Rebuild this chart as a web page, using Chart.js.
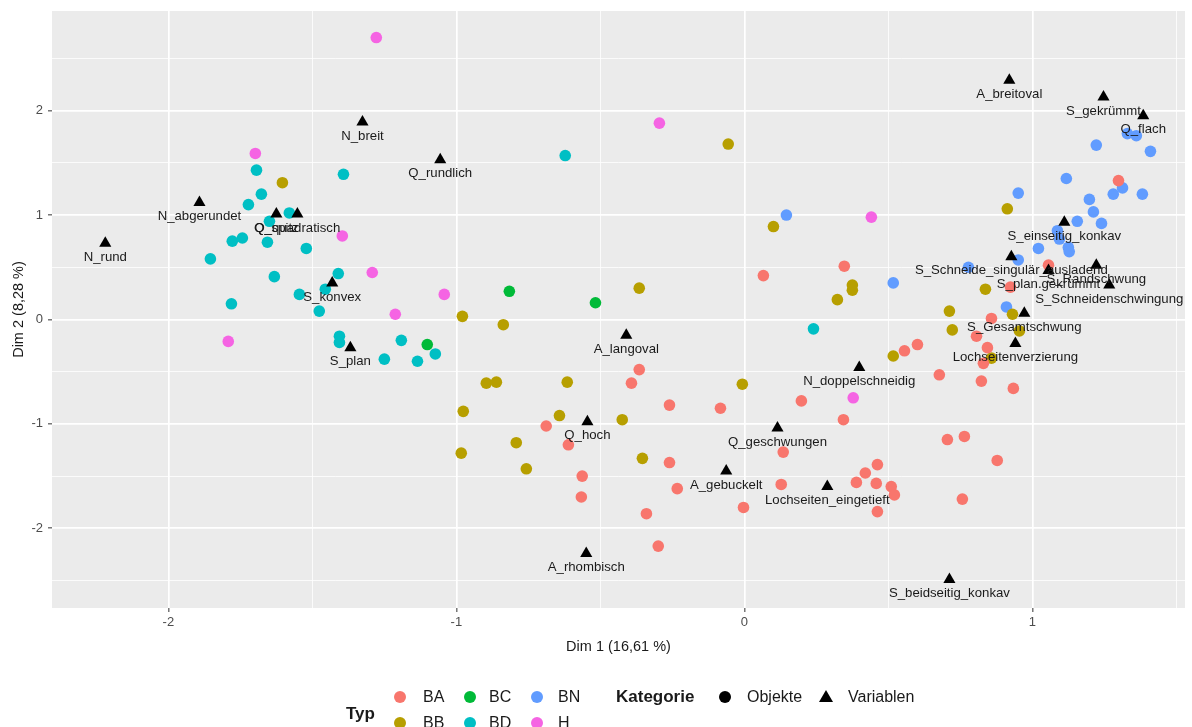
<!DOCTYPE html>
<html><head><meta charset="utf-8">
<script src="https://cdn.jsdelivr.net/npm/chart.js@4.4.1/dist/chart.umd.min.js"></script>
<style>
html,body{margin:0;padding:0;background:#fff;}
#wrap{position:relative;width:1192px;height:727px;overflow:hidden;}
#c{position:absolute;left:0;top:0;}
.lg{position:absolute;font-family:"Liberation Sans",Arial,sans-serif;color:#1a1a1a;white-space:nowrap;height:20px;line-height:20px;font-size:16px;}
.lt{font-weight:bold;font-size:17px;}
.dot{position:absolute;width:12px;height:12px;border-radius:50%;}
</style></head><body>
<div id="wrap">
<canvas id="c" width="1192" height="727"></canvas>
</div>
<script>
// ---- data (Dim 1, Dim 2) ----
const typNames = ["BA","BB","BC","BD","BN","H"];
const typColors = ["#F8766D","#B79F00","#00BA38","#00BFC4","#619CFF","#F564E3"];

const BA = [[0.066,0.42],[0.347,0.51],[1.299,1.33],[1.056,0.52],[0.924,0.31],[0.858,0.01],[0.806,-0.16],[0.844,-0.27],[0.830,-0.42],[0.601,-0.24],[0.556,-0.30],[0.677,-0.53],[0.823,-0.59],[0.934,-0.66],[0.705,-1.15],[0.764,-1.12],[0.878,-1.35],[0.389,-1.56],[0.420,-1.47],[0.462,-1.39],[0.458,-1.57],[0.510,-1.60],[0.521,-1.68],[0.757,-1.72],[0.462,-1.84],[0.198,-0.78],[0.344,-0.96],[0.135,-1.27],[0.128,-1.58],[-0.003,-1.80],[-0.365,-0.48],[-0.392,-0.61],[-0.260,-0.82],[-0.083,-0.85],[-0.688,-1.02],[-0.611,-1.20],[-0.260,-1.37],[-0.563,-1.50],[-0.233,-1.62],[-0.566,-1.70],[-0.340,-1.86],[-0.299,-2.17]];
const BB = [[-1.604,1.31],[-0.056,1.68],[0.101,0.89],[-0.365,0.30],[0.323,0.19],[0.375,0.33],[0.375,0.28],[-0.979,0.03],[-0.837,-0.05],[-0.896,-0.61],[-0.861,-0.60],[-0.615,-0.60],[-0.976,-0.88],[-0.642,-0.92],[-0.424,-0.96],[-0.792,-1.18],[-0.983,-1.28],[-0.757,-1.43],[-0.354,-1.33],[-0.007,-0.62],[0.517,-0.35],[0.913,1.06],[0.837,0.29],[0.712,0.08],[0.722,-0.10],[0.931,0.05],[0.955,-0.11],[0.858,-0.37]];
const BC = [[-0.816,0.27],[-0.517,0.16],[-1.101,-0.24]];
const BD = [[-1.694,1.43],[-1.677,1.20],[-1.722,1.10],[-1.580,1.02],[-1.649,0.94],[-1.778,0.75],[-1.743,0.78],[-1.656,0.74],[-1.854,0.58],[-1.521,0.68],[-1.392,1.39],[-1.632,0.41],[-1.410,0.44],[-1.781,0.15],[-1.545,0.24],[-1.455,0.29],[-1.476,0.08],[-1.406,-0.16],[-1.406,-0.22],[-1.191,-0.20],[-1.250,-0.38],[-1.135,-0.40],[-1.073,-0.33],[-0.622,1.57],[0.240,-0.09]];
const BN = [[1.222,1.67],[1.330,1.78],[1.361,1.76],[1.410,1.61],[1.118,1.35],[0.951,1.21],[1.198,1.15],[1.281,1.20],[1.313,1.26],[1.382,1.20],[1.212,1.03],[1.156,0.94],[1.240,0.92],[1.087,0.85],[1.094,0.77],[1.125,0.69],[1.128,0.65],[1.021,0.68],[0.951,0.57],[0.778,0.50],[0.517,0.35],[0.910,0.12],[0.146,1.00]];
const H = [[-1.278,2.70],[-1.698,1.59],[-1.396,0.80],[-1.292,0.45],[-1.212,0.05],[-1.042,0.24],[-1.792,-0.21],[-0.295,1.88],[0.441,0.98],[0.378,-0.75]];

const varNames = ["N_rund","N_abgerundet","Q_spitz","Q_quadratisch","N_breit","Q_rundlich","S_konvex","S_plan","A_langoval","Q_hoch","A_rhombisch","A_gebuckelt","Q_geschwungen","Lochseiten_eingetieft","N_doppelschneidig","S_beidseitig_konkav","A_breitoval","S_gekrümmt","Q_flach","S_einseitig_konkav","S_Schneide_singulär_ausladend","S_plan.gekrümmt","S_Randschwung","S_Schneidenschwingung","S_Gesamtschwung","Lochseitenverzierung"];
const varX = [-2.219,-1.892,-1.625,-1.552,-1.326,-1.056,-1.431,-1.368,-0.410,-0.545,-0.549,-0.063,0.115,0.288,0.399,0.712,0.920,1.247,1.385,1.111,0.927,1.056,1.222,1.267,0.972,0.941];
const varY = [0.73,1.12,1.01,1.01,1.89,1.53,0.35,-0.27,-0.15,-0.98,-2.24,-1.45,-1.04,-1.60,-0.46,-2.49,2.29,2.13,1.95,0.93,0.60,0.47,0.52,0.33,0.06,-0.23];

const xMajor = [-2,-1,0,1], xMinor = [-1.5,-0.5,0.5,1.5];
const yMajor = [-2,-1,0,1,2], yMinor = [-2.5,-1.5,-0.5,0.5,1.5,2.5];
const xTitle = "Dim 1 (16,61 %)", yTitle = "Dim 2 (8,28 %)";

// ---- chart ----
const FONT = '"Liberation Sans", Arial, sans-serif';
const typData = [BA,BB,BC,BD,BN,H];
const datasets = [{
  label: "Variablen",
  data: varX.map((x,i)=>({x:x,y:varY[i]})),
  pointStyle: 'triangle', pointRadius: 7, backgroundColor: '#000', borderWidth: 0
}];
typData.forEach((arr,i)=>datasets.push({
  label: typNames[i],
  data: arr.map(p=>({x:p[0],y:p[1]})),
  pointStyle: 'circle', pointRadius: 5.8, backgroundColor: typColors[i], borderWidth: 0
}));

const panelBg = {
  id:'panelBg',
  beforeDraw(chart){
    const a = chart.chartArea, c = chart.ctx;
    c.save(); c.fillStyle = '#EBEBEB'; c.fillRect(a.left, a.top, a.right-a.left, a.bottom-a.top); c.restore();
  }
};
const varLabels = {
  id:'varLabels',
  afterDatasetsDraw(chart){
    const meta = chart.getDatasetMeta(0), c = chart.ctx;
    c.save();
    c.font = '13.2px ' + FONT; c.fillStyle = '#1a1a1a'; c.textAlign = 'center'; c.textBaseline = 'middle';
    meta.data.forEach((el,i)=>{ c.fillText(varNames[i], el.x, el.y + 14); });
    c.restore();
  }
};
function gridOpts(major){
  return {
    color: '#FFFFFF',
    lineWidth: c => (c.tick && major.includes(c.tick.value)) ? 1.7 : 0.8,
    tickColor: c => (c.tick && major.includes(c.tick.value)) ? '#333333' : 'rgba(0,0,0,0)',
    tickLength: 4, tickWidth: 1, drawTicks: true
  };
}
new Chart(document.getElementById('c'), {
  type: 'scatter',
  data: { datasets },
  plugins: [panelBg, varLabels],
  options: {
    responsive: false, animation: false, devicePixelRatio: 1, events: [],
    layout: { padding: { left: 0, right: 2, top: 11, bottom: 67 } },
    plugins: { legend: { display: false }, tooltip: { enabled: false } },
    scales: {
      x: {
        type: 'linear', min: -2.404, max: 1.530,
        afterBuildTicks: s => { s.ticks = xMinor.concat(xMajor).sort((a,b)=>a-b).map(v=>({value:v})); },
        afterFit: s => { s.height = 52; s.paddingRight = 0; s.paddingLeft = 0; },
        ticks: { autoSkip: false, maxRotation: 0, padding: 3, color: '#4D4D4D', font: { family: FONT, size: 13 },
                 callback: v => xMajor.includes(v) ? String(v) : '' },
        grid: gridOpts(xMajor), border: { display: false },
        title: { display: true, text: xTitle, color: '#1a1a1a', font: { family: FONT, size: 14.5 }, padding: { top: 0, bottom: 4 } }
      },
      y: {
        type: 'linear', min: -2.763, max: 2.954,
        afterBuildTicks: s => { s.ticks = yMinor.concat(yMajor).sort((a,b)=>a-b).map(v=>({value:v})); },
        afterFit: s => { s.width = 52; s.paddingTop = 0; s.paddingBottom = 0; },
        ticks: { autoSkip: false, padding: 5, color: '#4D4D4D', font: { family: FONT, size: 13 },
                 callback: v => yMajor.includes(v) ? String(v) : '' },
        grid: gridOpts(yMajor), border: { display: false },
        title: { display: true, text: yTitle, color: '#1a1a1a', font: { family: FONT, size: 14.5 }, padding: { top: 10, bottom: 0 } }
      }
    }
  }
});

// ---- legend (HTML) ----
const wrap = document.getElementById('wrap');
function addText(txt, left, cy, cls){
  const d = document.createElement('div'); d.className = 'lg' + (cls ? ' ' + cls : '');
  d.textContent = txt; d.style.left = left + 'px'; d.style.top = (cy - 10) + 'px'; wrap.appendChild(d);
}
function addDot(cx, cy, color){
  const d = document.createElement('div'); d.className = 'dot';
  d.style.left = (cx - 6) + 'px'; d.style.top = (cy - 6) + 'px'; d.style.background = color; wrap.appendChild(d);
}
function addTri(cx, cy){
  const ns = 'http://www.w3.org/2000/svg';
  const s = document.createElementNS(ns, 'svg'); s.setAttribute('width','14'); s.setAttribute('height','13');
  s.style.position = 'absolute'; s.style.left = (cx - 7) + 'px'; s.style.top = (cy - 7) + 'px';
  const p = document.createElementNS(ns, 'polygon'); p.setAttribute('points','7,0 14,12 0,12'); p.setAttribute('fill','#000');
  s.appendChild(p); wrap.appendChild(s);
}
addText('Typ', 346, 714, 'lt');
const legPos = [[400,423,697],[400,423,723],[470,489,697],[470,489,723],[537,558,697],[537,558,723]];
// order: BA, BB, BC, BD, BN, H (column-wise)
typNames.forEach((n,i)=>{ const p = legPos[i]; addDot(p[0], p[2], typColors[i]); addText(n, p[1], p[2]); });
addText('Kategorie', 616, 697, 'lt');
addDot(725, 697, '#000'); addText('Objekte', 747, 697);
addTri(826, 697); addText('Variablen', 848, 697);
</script>
</body></html>
